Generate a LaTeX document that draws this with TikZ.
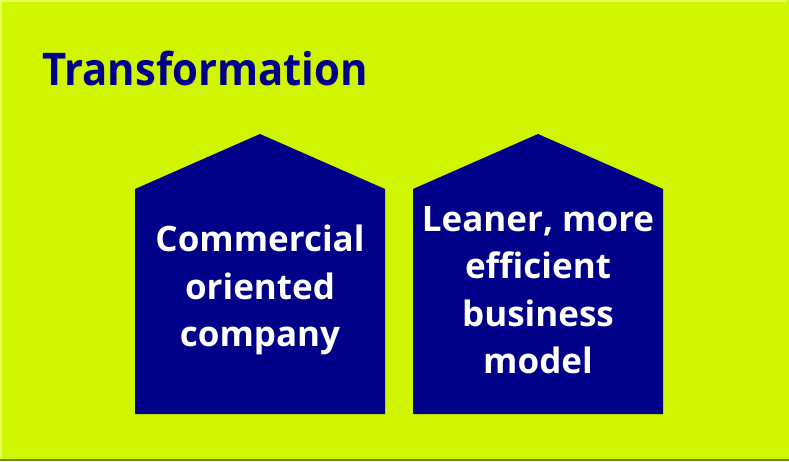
\documentclass[tikz,border=0pt]{standalone}
\usepackage{fontspec}
\setmainfont{Open Sans}
\newfontfamily\titlefont[FakeStretch=0.93]{Open Sans}
\definecolor{limebg}{HTML}{D0F500}
\definecolor{limehi}{HTML}{E2FF5A}
\definecolor{limedk}{HTML}{6E8A00}
\definecolor{navy}{HTML}{000088}
\tikzset{
  housetext/.style={text=white,align=center,font=\bfseries\fontsize{35}{47.5}\selectfont},
  titletext/.style={text=navy,font=\titlefont\bfseries\fontsize{45}{50}\selectfont,inner sep=0pt}
}

\begin{document}
\begin{tikzpicture}[x=1pt,y=-1pt]
  \useasboundingbox (0,0) rectangle (789,461);
  \fill[limebg] (0,0) rectangle (789,461);
  % frame edges
  \fill[limehi] (0,0) rectangle (787,2);
  \fill[limehi] (0,0) rectangle (2,461);
  \fill[limedk] (0,459) rectangle (789,461);
  \node[titletext,anchor=base west] (title) at (42,85) {Transformation};
  % the two houses
  \foreach \x/\name/\txt in {135/commercial/{Commercial\\oriented\\company},
                             413/leaner/{Leaner, more\\efficient\\business\\model}} {
    \fill[navy] (\x,414) -- (\x,189) -- (\x+125,134) -- (\x+250,189) -- (\x+250,414) -- cycle;
    \node[housetext] (\name) at (\x+125,290) {\txt};
  }
\end{tikzpicture}
\end{document}
